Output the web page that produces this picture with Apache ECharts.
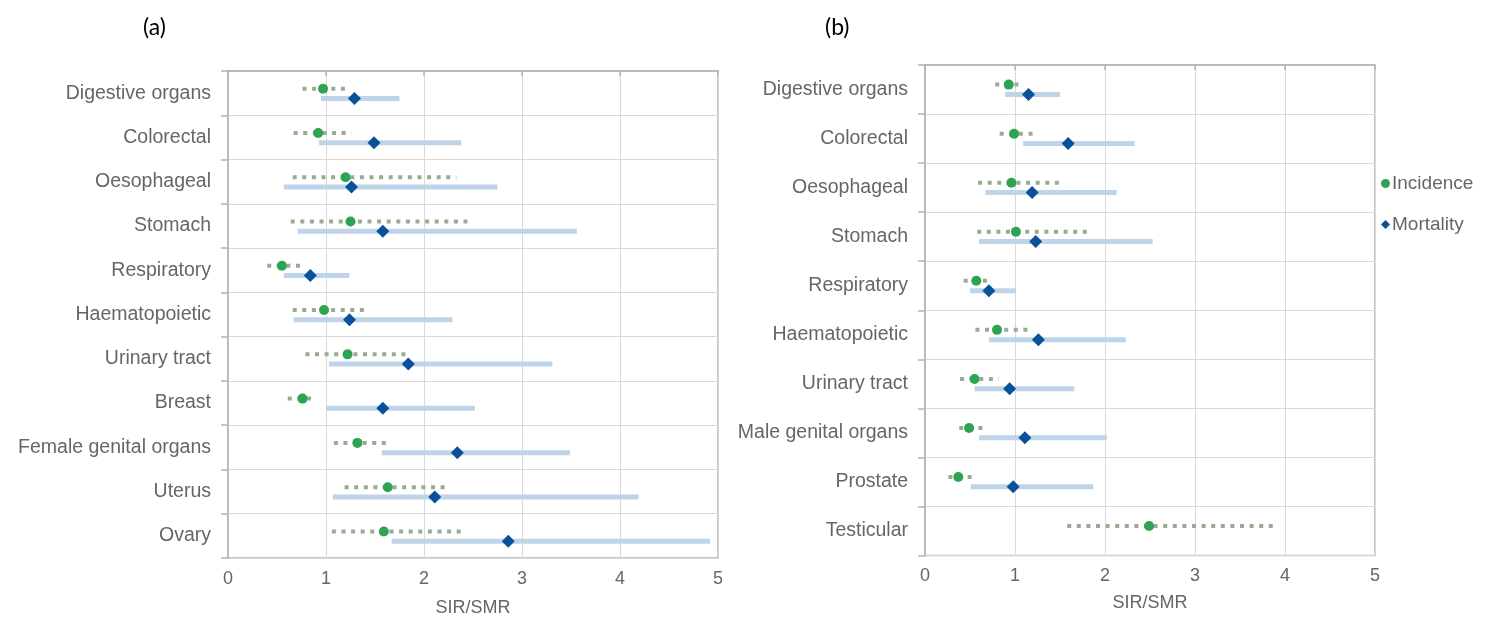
<!DOCTYPE html>
<html>
<head>
<meta charset="utf-8">
<script src="https://cdn.jsdelivr.net/npm/echarts@6/dist/echarts.min.js"></script>
<style>
  html, body { margin: 0; padding: 0; background: #ffffff; }
  #chart { width: 1498px; height: 622px; }
</style>
</head>
<body>
<div id="chart"></div>
<script>
// ---------- Panel (a) data ----------
const catsA = ['Digestive organs', 'Colorectal', 'Oesophageal', 'Stomach', 'Respiratory', 'Haematopoietic',
  'Urinary tract', 'Breast', 'Female genital organs', 'Uterus', 'Ovary'];
const incA     = [0.97, 0.92, 1.20, 1.25, 0.55, 0.98, 1.22, 0.76, 1.32, 1.63, 1.59];
const incLoA   = [0.76, 0.67, 0.66, 0.64, 0.40, 0.66, 0.79, 0.61, 1.08, 1.19, 1.06];
const incHiA   = [1.21, 1.26, 2.33, 2.47, 0.78, 1.42, 1.86, 0.90, 1.66, 2.26, 2.43];
const mortA    = [1.29, 1.49, 1.26, 1.58, 0.84, 1.24, 1.84, 1.58, 2.34, 2.11, 2.86];
const mortLoA  = [0.95, 0.93, 0.57, 0.71, 0.57, 0.67, 1.03, 1.00, 1.57, 1.07, 1.67];
const mortHiA  = [1.75, 2.38, 2.75, 3.56, 1.24, 2.29, 3.31, 2.52, 3.49, 4.19, 4.92];

// ---------- Panel (b) data ----------
const catsB = ['Digestive organs', 'Colorectal', 'Oesophageal', 'Stomach', 'Respiratory', 'Haematopoietic',
  'Urinary tract', 'Male genital organs', 'Prostate', 'Testicular'];
const incB     = [0.93, 0.99, 0.96, 1.01, 0.57, 0.80, 0.55, 0.49, 0.37, 2.49];
const incLoB   = [0.78, 0.83, 0.59, 0.58, 0.43, 0.56, 0.39, 0.38, 0.26, 1.58];
const incHiB   = [1.09, 1.25, 1.55, 1.80, 0.73, 1.15, 0.82, 0.65, 0.53, 3.91];
const mortB    = [1.15, 1.59, 1.19, 1.23, 0.71, 1.26, 0.94, 1.11, 0.98, null];
const mortLoB  = [0.89, 1.09, 0.67, 0.60, 0.50, 0.71, 0.55, 0.60, 0.51, null];
const mortHiB  = [1.50, 2.33, 2.13, 2.53, 1.01, 2.23, 1.66, 2.02, 1.87, null];

const xTicks = [0, 1, 2, 3, 4, 5];
const axisTitle = 'SIR/SMR';
const seriesNames = ['Incidence', 'Mortality'];

// ---------- styles ----------
const GREEN = '#2ea352';
const BLUE = '#0a519b';
const CI_BLUE = '#bfd4e8';
const CI_GREEN = '#9aab93';
const LABEL = '#666666';
const GRID = '#d9d9d9';
const AXIS = '#b3b3b3';
const FONT = '"Liberation Sans", Arial, sans-serif';

function rowPos(i, off) { return i + off; }

function ciData(lo, hi, off) {
  const d = [];
  lo.forEach((v, i) => { if (v != null && hi[i] != null) d.push([v, hi[i], rowPos(i, off)]); });
  return d;
}
function ptData(vals, off) {
  const d = [];
  vals.forEach((v, i) => { if (v != null) d.push([v, rowPos(i, off)]); });
  return d;
}
function ciRender(style) {
  return function (params, api) {
    const y = api.value(2);
    const p1 = api.coord([api.value(0), y]);
    const p2 = api.coord([api.value(1), y]);
    return { type: 'line', shape: { x1: p1[0], y1: p1[1], x2: p2[0], y2: p2[1] }, style: style };
  };
}

const grids = [
  { left: 228, right: 780, top: 71, bottom: 63 },
  { left: 925, right: 123, top: 65, bottom: 66.5 }
];

function xAxisFor(idx, nameGap) {
  return {
    type: 'value', gridIndex: idx, min: 0, max: 5, interval: 1,
    axisLine: { show: true, lineStyle: { color: AXIS, width: 1.5 } },
    axisTick: { show: true, length: 5, lineStyle: { color: AXIS, width: 1.5 } },
    axisLabel: { color: LABEL, fontSize: 18, fontFamily: FONT, margin: 12,
      formatter: v => (xTicks.indexOf(v) >= 0 ? String(v) : '') },
    splitLine: { show: true, lineStyle: { color: GRID, width: 1 } },
    name: axisTitle, nameLocation: 'middle', nameGap: nameGap,
    nameTextStyle: { color: LABEL, fontSize: 18, fontFamily: FONT }
  };
}
function catAxisFor(idx, cats) {
  return {
    type: 'category', gridIndex: idx, data: cats, inverse: true, boundaryGap: true,
    axisLine: { show: true, lineStyle: { color: AXIS, width: 1.5 } },
    axisTick: { show: true, length: 7, lineStyle: { color: AXIS, width: 1.5 } },
    axisLabel: { color: LABEL, fontSize: 19.5, fontFamily: FONT, margin: 17 },
    splitLine: { show: true, lineStyle: { color: GRID, width: 1 } }
  };
}
function valYAxisFor(idx, n) {
  return { type: 'value', gridIndex: idx, min: 0, max: n, inverse: true, show: false,
    splitLine: { show: false } };
}

function panelSeries(xi, yi, inc, incLo, incHi, mort, mortLo, mortHi, incOff, mortOff) {
  return [
    { type: 'custom', name: 'mortCI', xAxisIndex: xi, yAxisIndex: yi, silent: true, z: 2,
      renderItem: ciRender({ stroke: CI_BLUE, lineWidth: 5, lineCap: 'butt' }),
      encode: { x: [0, 1], y: 2 }, data: ciData(mortLo, mortHi, mortOff) },
    { type: 'custom', name: 'incCI', xAxisIndex: xi, yAxisIndex: yi, silent: true, z: 3,
      renderItem: ciRender({ stroke: CI_GREEN, lineWidth: 4, lineCap: 'butt', lineDash: [4, 5.6] }),
      encode: { x: [0, 1], y: 2 }, data: ciData(incLo, incHi, incOff) },
    { type: 'scatter', name: seriesNames[0], xAxisIndex: xi, yAxisIndex: yi, z: 4,
      symbol: 'circle', symbolSize: 10, itemStyle: { color: GREEN, opacity: 1 },
      data: ptData(inc, incOff) },
    { type: 'scatter', name: seriesNames[1], xAxisIndex: xi, yAxisIndex: yi, z: 5,
      symbol: 'diamond', symbolSize: 13, itemStyle: { color: BLUE, opacity: 1 },
      data: ptData(mort, mortOff) }
  ];
}

const option = {
  backgroundColor: '#ffffff',
  animation: false,
  grid: grids.map(g => Object.assign({ show: true, borderColor: AXIS, borderWidth: 1.5, containLabel: false }, g)),
  xAxis: [xAxisFor(0, 41), xAxisFor(1, 39)],
  yAxis: [catAxisFor(0, catsA), valYAxisFor(0, catsA.length), catAxisFor(1, catsB), valYAxisFor(1, catsB.length)],
  legend: {
    orient: 'vertical', left: 1376, top: 169,
    itemWidth: 9, itemHeight: 9, itemGap: 22,
    textStyle: { color: LABEL, fontSize: 19, fontFamily: FONT, padding: [0, 0, 0, -3] },
    data: [{ name: seriesNames[0], icon: 'circle' }, { name: seriesNames[1], icon: 'diamond' }],
    selectedMode: false
  },
  graphic: [
    { type: 'text', left: 143, top: 16, style: { text: '(a)', fontSize: 23, fill: '#000', fontFamily: 'Lato, "Open Sans", sans-serif' } },
    { type: 'text', left: 825, top: 16, style: { text: '(b)', fontSize: 23, fill: '#000', fontFamily: 'Lato, "Open Sans", sans-serif' } }
  ],
  series: [
    ...panelSeries(0, 1, incA, incLoA, incHiA, mortA, mortLoA, mortHiA, 0.4, 0.62),
    ...panelSeries(1, 3, incB, incLoB, incHiB, mortB, mortLoB, mortHiB, 0.4, 0.6)
  ]
};

const chart = echarts.init(document.getElementById('chart'), null, { renderer: 'canvas' });
chart.setOption(option);
</script>
</body>
</html>
